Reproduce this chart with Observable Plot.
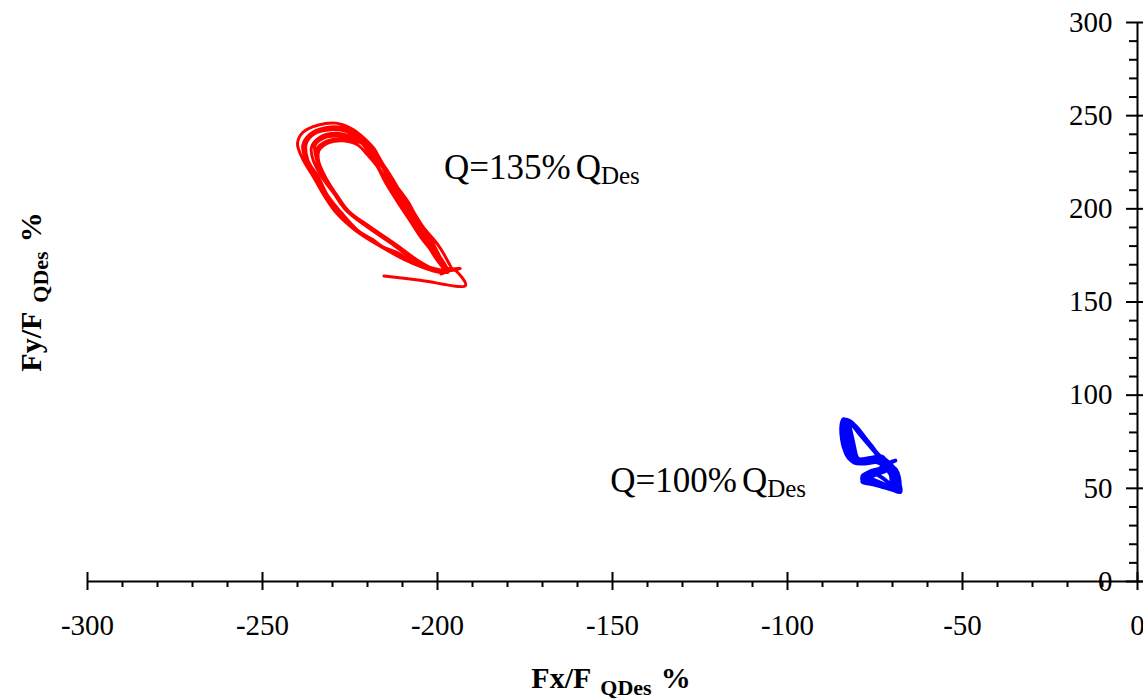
<!DOCTYPE html>
<html><head><meta charset="utf-8">
<script src="https://cdn.jsdelivr.net/npm/d3@7"></script>
<script src="https://cdn.jsdelivr.net/npm/@observablehq/plot@0.6"></script>
<style>
html,body{margin:0;padding:0;background:#fff;}
#chart svg{display:block;}
</style></head><body><div id="chart"></div>
<script>
// ---- Axis ticks ----
const xMajorTicks = [-300, -250, -200, -150, -100, -50, 0];
const xTickLabels = ["-300", "-250", "-200", "-150", "-100", "-50", "0"];
const xMinorTicks = [-290,-280,-270,-260,-240,-230,-220,-210,-190,-180,-170,-160,-140,-130,-120,-110,-90,-80,-70,-60,-40,-30,-20,-10];
const yMajorTicks = [0, 50, 100, 150, 200, 250, 300];
const yTickLabels = ["0", "50", "100", "150", "200", "250", "300"];
const yMinorTicks = [10,20,30,40,60,70,80,90,110,120,130,140,160,170,180,190,210,220,230,240,260,270,280,290];

// ---- Series: Q = 135% QDes (red) ----
const redFx = [
-215.3,-205,-192,-195.8,
-199,-208,-216,-223.5,-229,-232.5,-235.4,-238.3,-240,-238.5,-234,-229,-224.5,-221,-218,-216.3,-213.4,-210.6,-207.1,-204,-200,-197.1,-196,
-207,-211.5,-215.5,-219.5,-223.5,-228.5,-232,-234.5,-237.5,-238.5,-236.5,-232,-227,-223.5,-220.5,-218,-215.5,-212.5,-209,-206,-202,-198.5,-197,
-205,-212.5,-219.5,-226,-229.5,-233,-235.5,-236,-233.5,-229,-225,-220.5,-217.5,-215,-212,-208.5,-205.5,-202,-199.5,-197.5,
-205,-212.5,-219.5,-226,-229.5,-232.5,-234.5,-234.5,-231.5,-227,-222,-219,-216,-213,-210,-206.5,-203.5,-200,-198,
-204.5,-212,-219,-225.5,-229,-232,-234,-233.8,-231,-227,-223,-220,-216.5,-213,-209.5,-206.5,-203.5,-200.5,-198,
-206.5,-211,-215,-218.5,-222.5,-227.5,-231.5,-234,-237,-237.5,-235,-230.5,-226,-222.5,-219.5,-217,-214.5,-211.5,-208,-204.5,-200.5,-197,-193.5,
-199,-204.5,-212,-219,-225.5,-229,-232.5,-234.5,-235,-232.5,-228,-223.5,-219.5,-216,-212.5,-209.5,-206,-203,-200,-197,-199
];
const redFy = [
163.9,161.7,158.9,167.9,
166,171.5,179.5,188.5,198,207.5,217,226,235,241,245,246,243,238,232,226,217,208,199,190,181,172,167,
171.5,176.5,179.5,184.5,189,198.5,207.5,217,226,234,240,243.5,243.5,240,234,227,217,208,199,190,181,172,166,
171,181,190,199,208,217,226,233,238.5,240.5,239,236,230,222,213,204,194,184,175,167,
170.5,180.5,189.5,199,208,217,226,232,236.5,237.5,235.5,231,223,213.5,204,194,184,174,167,
170.5,181,190,199,208,217,226,231.5,235.5,236.5,234.5,229,221,211.5,201.5,192,182.5,173.5,166,
170.5,175,178.5,183.5,188,198,207.5,217,226,235,240.5,242.5,241.5,237,230,222,213,204,194,184,175,168,168,
166.5,171,181,190,199,208,217,226,234,238,239,237,232.5,225,215,205,195,184,174,167,165
];

// ---- Series: Q = 100% QDes (blue) ----
const blueFx = [
-69.1,-72.5,
-75,-78,-81,-83,-84.3,-84.4,-84,-82.8,-80.8,-77.5,-74,-71.5,-69,-68,-67.7,-71.5,-75.5,-78.7,-76,-72.5,
-74.5,-77.5,-80.5,-82.7,-83.6,-83.6,-82.8,-81.4,-80.2,-77,-73.5,-71,-69.3,-68.5,-68.2,-71,-75,-78.6,-75.5,-72,
-75.5,-78.8,-81.6,-83.4,-83,-82.5,-81.8,-80.8,-80,-76.5,-73,-70.8,-69,-68.8,-68.8,-72.5,-76,-78.7,-75,-71.8,
-75.2,-78.4,-81.3,-83.2,-84,-83.8,-83,-81.8,-80.5,-77.2,-73.8,-71.5,-69.8,-69.2,-69,-72,-75.5,-78.5,-76,-72.8,
-74.8,-78.2,-81.5,-83.4,-82.6,-81.8,-81,-80.4,-79.8,-76.8,-73.2,-72.8,-69.1,-71.5,-69.5,-68.3,-67.9,-71.2,-75,-78.7,-76.5,-73.5,-71,
-75.8,-79.2,-82,-83.8,-84.2,-84,-83.2,-81.6,-80.6,-77.5,-74.2,-71.8,-70,-69.5,-69.5,-73,-76.5,-78.6,-75.8,-72.2,
-75.3,-78.6,-81.8,-83.6,-83.3,-82.9,-82.2,-81,-80.2,-77,-73.6,-71.2,-69.4,-68.6,-68.4,-71.8,-75.2,-78.7,-76.2,-72.6,
-74.9,-78.1,-81.2,-83.1,-83.9,-83.4,-82.5,-81.2,-80.3,-76.8,-73.4,-71.5,-70.2,-69.5,-68.8,-71.5,-75,-78.5,-75.5,-72.5,
-75.6,-79,-82.2,-84,-84.6,-84.6,-83.8,-82.2,-80.9,-77.8,-74.6,-72.6,-70.8,-69.2,-68.3,-70,-72.5,-75.2,-73,
-74.7,-77.9,-81.1,-82.9,-82.3,-81.5,-80.8,-80.3,-79.6,-76.4,-73,-71.5,-69,-68.1,-67.9,-68.6,-70.5,-73.5,-76.8,-78.7,-76,-73.2,
-75.4,-78.8,-82.4,-84.2,-84.5,-84.2,-83.3,-81.8,-80.7,-77.3,-73.9,-71.8,-70.6,-70.3,-69.8,-72.8,-76.2,-78.8,-76.8,-73.6,-71.6,
-74.6,-77.8,-81,-83.2,-83.7,-83.1,-82.4,-81.5,-80.4,-77.1,-73.7,-71.3,-69.4,-68.7,-68.5,-71.2,-74.8,-78.2,-75.3,-72.4,-71.5,-70.5
];
const blueFy = [
64.9,63.5,
69.5,77,84,86.8,85,80,74,68,64,64.2,64.8,61.5,58.5,53,48,50.3,52,53.5,57.5,60,
69,76.5,83.5,86.5,84,78,71.5,66.5,64.5,65.2,66,62.5,59,54,49,50.8,53,55,58.2,61,
70.5,78,84.5,86,82,76,70.5,66.5,64.8,65.5,66.5,63.5,59.5,55,50.5,51.5,54,56,58.8,61.2,
70,77.5,84.2,87,84,77,70,65.5,63.8,63.8,64.5,62,58,53,49.5,51,53,54.5,56.5,59.5,
69.2,76.8,84,85.6,81,75,69.5,66,65,66,67,63.2,65,62,57.5,52,48.2,49.8,51.8,53.8,56,58.2,60.5,
71,78.5,85,86.5,83,76,69.5,65,64,64.6,65.5,62.8,59.8,55.5,52,52.5,54.5,56,58,60.5,
70.2,77.8,84.8,86.2,82.5,75.5,69,65.2,64.2,64.4,65.2,62.2,58.2,53.5,48.8,50.6,52.6,54.8,57,59.8,
69.8,77.2,84.1,85.9,82.8,75.8,69.2,65.8,64.6,65,65.8,63.2,60,56.5,52,51,53,55.5,58,61,
70.8,78.2,85.2,87.2,84.5,78,71,66,63.6,63.2,64,62,58,53,48.5,51.5,55,58.8,60.5,
69.5,77,84.3,86.3,83.5,77.5,71.5,67.5,65.8,66.4,67.2,64,60.2,56,51,48,52,56.5,58.2,56.8,59.5,61.5,
70.6,78.2,85.6,86.4,82,75,68.5,64.8,63.7,63.9,64.7,61.8,57.5,53.8,50.2,51.2,53.2,55.2,57.6,59.8,62.6,
69.4,76.8,84,86.6,84,78,72,67.2,64.4,64.8,65.6,63,59.6,55.2,50.8,51.6,54.2,57.2,59.2,60.8,62,58
];

// ---- Annotations ----
const anno135 = {x: -198, y: 216, main: "Q=135%", q: "Q", sub: "Des"};
const anno100 = {x: -150.5, y: 48, main: "Q=100%", q: "Q", sub: "Des"};

const serif = "'Liberation Serif','Times New Roman',Times,serif";
const redData = redFx.map((x, i) => ({x, y: redFy[i]}));
const blueData = blueFx.map((x, i) => ({x, y: blueFy[i]}));
const xTickData = xMajorTicks.map((v, i) => ({v, label: xTickLabels[i]}));
const yTickData = yMajorTicks.map((v, i) => ({v, label: yTickLabels[i]}));

const chart = Plot.plot({
  width: 1143, height: 699,
  marginLeft: 87, marginRight: 6, marginTop: 22, marginBottom: 118,
  x: {domain: [-300, 0], axis: null},
  y: {domain: [0, 300], axis: null},
  style: {fontFamily: serif, fontSize: "29px", background: "white", color: "black", overflow: "visible"},
  marks: [
    Plot.line(redData, {x: "x", y: "y", stroke: "#ff0000", strokeWidth: 3, curve: "catmull-rom"}),
    Plot.line(blueData, {x: "x", y: "y", stroke: "#0000ff", strokeWidth: 3.5, curve: "catmull-rom"}),
    Plot.ruleY([0], {insetRight: -6, stroke: "black", strokeWidth: 2}),
    Plot.ruleX([0], {stroke: "black", strokeWidth: 2}),
    Plot.ruleX(xMajorTicks, {x: d => d, y1: () => 0, y2: () => 0, insetTop: -9, insetBottom: -9, stroke: "black", strokeWidth: 2}),
    Plot.ruleX(xMinorTicks, {x: d => d, y1: () => 0, y2: () => 0, insetBottom: -6, stroke: "black", strokeWidth: 2}),
    Plot.ruleY(yMajorTicks, {y: d => d, x1: () => 0, x2: () => 0, insetLeft: -11, insetRight: -6, stroke: "black", strokeWidth: 2}),
    Plot.ruleY(yMinorTicks, {y: d => d, x1: () => 0, x2: () => 0, insetLeft: -8, stroke: "black", strokeWidth: 2}),
    Plot.text(xTickData, {x: "v", y: () => 0, text: "label", dy: 44, fill: "black", fontSize: 29}),
    Plot.text(yTickData, {x: () => 0, y: "v", text: "label", dx: -25, textAnchor: "end", fill: "black", fontSize: 29})
  ]
});
document.getElementById("chart").appendChild(chart);

const sx = chart.scale("x"), sy = chart.scale("y");
const svg = d3.select(chart);
function annotate(a) {
  const t = svg.append("text")
    .attr("x", sx.apply(a.x)).attr("y", sy.apply(a.y))
    .attr("text-anchor", "start")
    .attr("font-family", serif).attr("font-size", 35).attr("fill", "black");
  t.append("tspan").text(a.main);
  t.append("tspan").attr("dx", 5).text(a.q);
  t.append("tspan").attr("dy", 5).attr("font-size", 25).text(a.sub);
}
annotate(anno135);
annotate(anno100);

// x-axis title
const xt = svg.append("text").attr("x", 611).attr("y", 688)
  .attr("text-anchor", "middle").attr("font-family", serif)
  .attr("font-weight", "bold").attr("font-size", 30).attr("fill", "black");
xt.append("tspan").text("Fx/F");
xt.append("tspan").attr("dx", 9).attr("dy", 7).attr("font-size", 22).text("QDes");
xt.append("tspan").attr("dx", 9).attr("dy", -7).text("%");

// y-axis title
const yt = svg.append("text").attr("transform", "translate(41,292) rotate(-90)")
  .attr("text-anchor", "middle").attr("font-family", serif)
  .attr("font-weight", "bold").attr("font-size", 30).attr("fill", "black");
yt.append("tspan").text("Fy/F");
yt.append("tspan").attr("dx", 9).attr("dy", 7).attr("font-size", 22).text("QDes");
yt.append("tspan").attr("dx", 9).attr("dy", -7).text("%");
</script>
</body></html>
